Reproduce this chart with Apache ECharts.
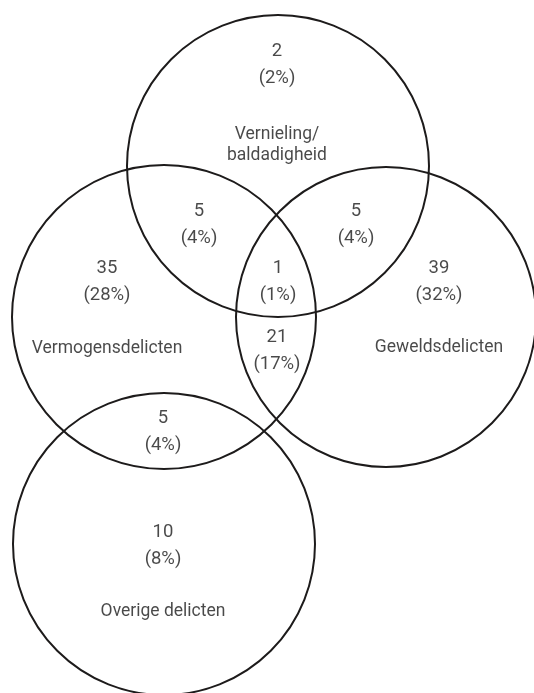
<!DOCTYPE html>
<html>
<head>
<meta charset="utf-8">
<script src="https://cdn.jsdelivr.net/npm/echarts@6/dist/echarts.min.js"></script>
<style>
    html, body { margin: 0; padding: 0; background: #fff; }
    #venn { width: 534px; height: 693px; }
</style>
</head>
<body>
<div id="venn"></div>
<script>
//  data: sets and region counts
var setNames = ['Vernieling/\nbaldadigheid', 'Vermogensdelicten', 'Geweldsdelicten', 'Overige delicten'];
var regionNames = ['V', 'M', 'G', 'V+M', 'V+G', 'V+M+G', 'M+G', 'M+O', 'O'];
var regionCounts = [2, 35, 39, 5, 5, 1, 21, 5, 10];
var regionPercents = [2, 28, 32, 4, 4, 1, 17, 4, 8];

//  layout (pixel space of the picture)
var setCircles = [[278, 166, 151], [164, 317, 152], [386, 317, 150], [164, 544, 151]];
var setLabelPos = [[277, 145], [107, 349], [439, 348], [163, 612]];
var regionLabelPos = [[277, 65], [107, 282], [439, 282], [199, 225], [356, 225], [278, 282], [277, 351], [163, 432], [163, 546]];

var font = 'Roboto, "Liberation Sans", sans-serif';
var txtColor = '#1c1c1c';

var chart = echarts.init(document.getElementById('venn'));

var circleData = setCircles.map(function (c, i) {
    return { name: setNames[i], value: c };
});
var setLabelData = setLabelPos.map(function (p, i) {
    return { name: setNames[i], value: p };
});
var regionData = regionLabelPos.map(function (p, i) {
    return { name: regionNames[i], value: p.concat([regionCounts[i], regionPercents[i]]) };
});

var option = {
    animation: false,
    grid: { left: 0, right: 0, top: 0, bottom: 0 },
    xAxis: { type: 'value', min: 0, max: 534, show: false },
    yAxis: { type: 'value', min: 0, max: 693, inverse: true, show: false },
    series: [
        {
            type: 'custom',
            data: circleData,
            renderItem: function (params, api) {
                var c = api.coord([api.value(0), api.value(1)]);
                var r = api.size([api.value(2), 0])[0];
                return {
                    type: 'circle',
                    shape: { cx: c[0], cy: c[1], r: r },
                    style: { fill: null, stroke: '#1d1b1b', lineWidth: 2 }
                };
            }
        },
        {
            type: 'scatter',
            symbolSize: 0,
            data: regionData,
            label: {
                show: true,
                position: 'inside',
                color: txtColor,
                fontFamily: font,
                fontSize: 18.5,
                lineHeight: 27,
                formatter: function (p) {
                    return p.value[2] + '\n(' + p.value[3] + '%)';
                }
            }
        },
        {
            type: 'scatter',
            symbolSize: 0,
            data: setLabelData,
            label: {
                show: true,
                position: 'inside',
                color: txtColor,
                fontFamily: font,
                fontSize: 17.5,
                lineHeight: 21,
                formatter: '{b}'
            }
        }
    ]
};
chart.setOption(option);
</script>
</body>
</html>
